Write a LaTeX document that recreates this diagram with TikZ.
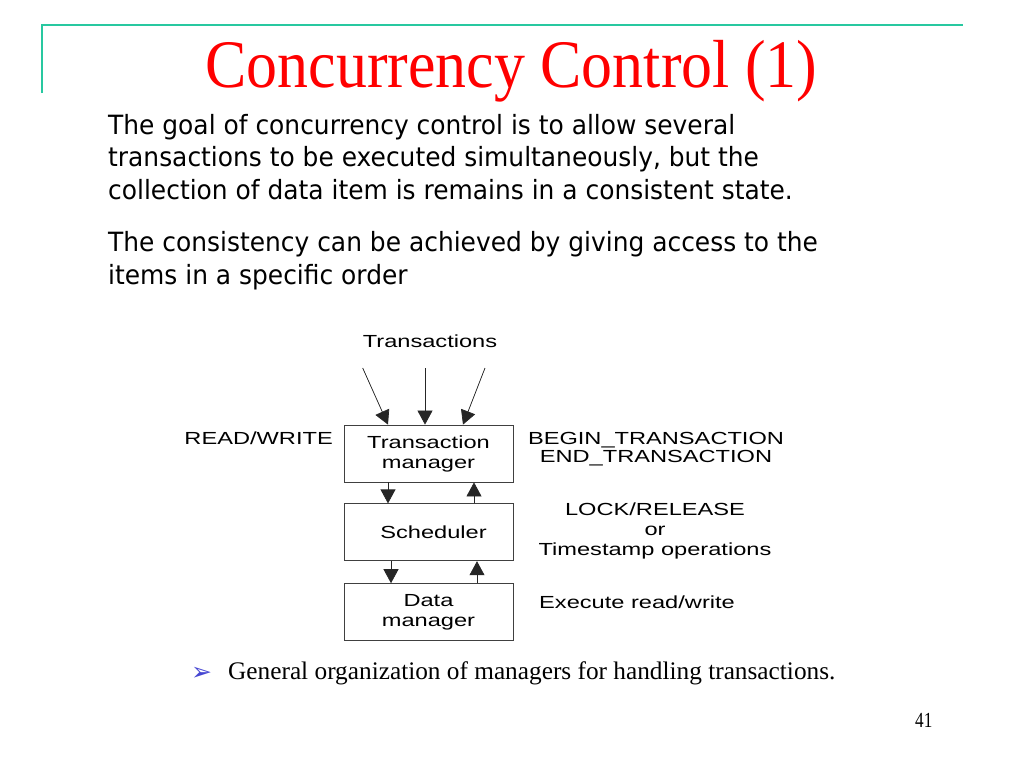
\documentclass[tikz,border=0pt]{standalone}
\usepackage{fontspec}
\setmainfont{Liberation Serif}
\newfontfamily\titlefont[FakeStretch=0.91]{Liberation Serif}
\newfontfamily\bodyfont[FakeStretch=0.94]{DejaVu Sans}
\newfontfamily\diagfont[FakeStretch=1.35]{Liberation Sans}
\newfontfamily\numfont[FakeStretch=0.8]{Liberation Serif}
\newfontfamily\symfont{DejaVu Sans}
\usetikzlibrary{arrows.meta,positioning,calc}
\definecolor{Rule}{RGB}{40,200,160}
\definecolor{TitleRed}{RGB}{255,0,0}
\definecolor{Bullet}{RGB}{70,70,210}
\tikzset{
  >={Triangle[length=14pt,width=15pt]},
  mgr/.style={draw=black!75,line width=0.8pt,minimum width=169pt,minimum height=57pt,inner sep=0pt,align=center,font=\diagfont\fontsize{17.5}{20}\selectfont},
  lbl/.style={inner sep=0pt,align=center,font=\diagfont\fontsize{17.5}{18}\selectfont},
  flow/.style={->,line width=0.7pt,draw=black!85,fill=black},
}

\begin{document}
\begin{tikzpicture}[x=1pt,y=-1pt]
  \useasboundingbox (0,0) rectangle (1024,768);
  % Рамка слайда
  \draw[Rule,line width=2pt] (42,93) -- (42,25) -- (963,25);
  % Заголовок
  \node[anchor=base,inner sep=0pt,text=TitleRed,font=\titlefont\fontsize{68}{68}\selectfont] (title) at (511.5,87) {Concurrency Control (1)};
  % Текст
  \node[anchor=base west,inner sep=0pt,align=left,font=\bodyfont\fontsize{26.5}{32.3}\selectfont] (goal) at (108,199)
    {The goal of concurrency control is to allow several\\transactions to be executed simultaneously, but the\\collection of data item is remains in a consistent state.};
  \node[anchor=base west,inner sep=0pt,align=left,font=\bodyfont\fontsize{26.5}{32.3}\selectfont] (order) at (108,284)
    {The consistency can be achieved by giving access to the\\items in a specific order};
  % Схема менеджеров
  \node[lbl,anchor=base] (trans) at (430,347) {Transactions};
  \node[mgr] (tm) at (428.5,453.5) {Transaction\\manager};
  \node[mgr,below=21pt of tm] (sched) {\hspace*{10pt}Scheduler};
  \node[mgr,below=22pt of sched] (dm) {Data\\manager};
  \coordinate (t1) at (362.7,368);
  \coordinate (t2) at (425,368);
  \coordinate (t3) at (485,368);
  \draw[flow] (t1) -- ([xshift=-40.5pt]tm.north);
  \draw[flow] (t2) -- ([xshift=-3.5pt]tm.north);
  \draw[flow] (t3) -- ([xshift=34.5pt]tm.north);
  \draw[flow] ([xshift=-40.5pt]tm.south) -- ([xshift=-40.5pt]sched.north);
  \draw[flow] ([xshift=45.5pt]sched.north) -- ([xshift=45.5pt]tm.south);
  \draw[flow] ([xshift=-37.5pt]sched.south) -- ([xshift=-37.5pt]dm.north);
  \draw[flow] ([xshift=48.5pt]dm.north) -- ([xshift=48.5pt]sched.south);
  % Подписи операций
  \node[lbl,anchor=base east] (rw) at (333,444) {READ/WRITE};
  \node[lbl,anchor=base] (begin) at (656,462) {BEGIN\_TRANSACTION\\END\_TRANSACTION};
  \node[lbl,anchor=base,font=\diagfont\fontsize{17.5}{20}\selectfont] (lock) at (655,555) {LOCK/RELEASE\\or\\Timestamp operations};
  \node[lbl,anchor=base west] (exec) at (539,608) {Execute read/write};
  % Подпись к схеме
  \node[anchor=base west,inner sep=0pt,text=Bullet,font=\symfont\fontsize{25}{25}\selectfont] (bul) at (191,680) {➢};
  \node[anchor=base west,inner sep=0pt,font=\fontsize{25.3}{25.3}\selectfont] (cap) at (228,679) {General organization of managers for handling transactions.};
  \node[anchor=base west,inner sep=0pt,font=\numfont\fontsize{21.5}{21.5}\selectfont] (num) at (915,727) {41};
\end{tikzpicture}
\end{document}
